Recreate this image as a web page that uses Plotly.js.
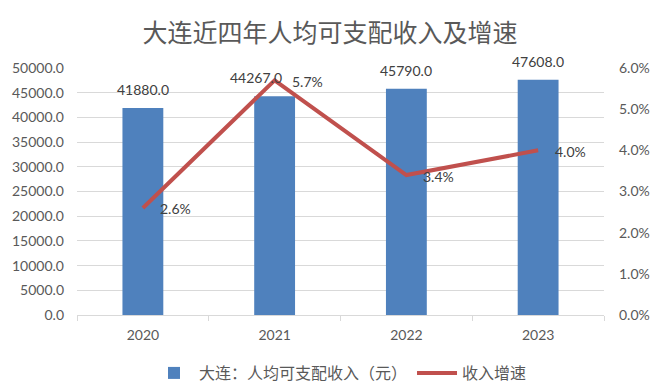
<!DOCTYPE html>
<html>
<head>
<meta charset="utf-8">
<script src="https://cdn.plot.ly/plotly-3.0.1.min.js"></script>
<style>html,body{margin:0;padding:0;background:#fff;}#chart{width:660px;height:391px;}</style>
</head>
<body>
<div id="chart"></div>
<script>
const years = ["2020", "2021", "2022", "2023"];
const income = [41880.0, 44267.0, 45790.0, 47608.0];
const growth = [2.6, 5.7, 3.4, 4.0];
const incomeName = "大连：人均可支配收入（元）";
const growthName = "收入增速";
const titleText = "大连近四年人均可支配收入及增速";

const latin = "Lato, 'Noto Sans CJK SC', sans-serif";
const cjk = "'Noto Sans CJK SC', Lato, sans-serif";
const txt = "#595959";

const traces = [
  {
    type: "bar", x: years, y: income, name: incomeName,
    marker: {color: "#4F81BD"}, hoverinfo: "none"
  },
  {
    type: "scatter", mode: "lines", x: years, y: growth, name: growthName,
    yaxis: "y2", line: {color: "#C0504D", width: 4}, hoverinfo: "none"
  }
];

const barShift = [0, -19, 0, 0];
const annotations = [];
years.forEach((yr, i) => {
  annotations.push({
    x: i, y: income[i], xref: "x", yref: "y",
    text: income[i].toFixed(1), showarrow: false,
    xanchor: "center", yanchor: "bottom", yshift: 8, xshift: barShift[i],
    font: {family: latin, size: 14, color: "#404040"}
  });
  annotations.push({
    x: i, y: growth[i], xref: "x", yref: "y2",
    text: growth[i].toFixed(1) + "%", showarrow: false,
    xanchor: "left", yanchor: "middle", xshift: 15, yshift: -1,
    font: {family: latin, size: 14, color: "#404040"}
  });
});

const layout = {
  width: 660, height: 391,
  margin: {l: 77, r: 56, t: 68, b: 76, autoexpand: false},
  paper_bgcolor: "#fff", plot_bgcolor: "#fff",
  title: {text: titleText, x: 0.5, xanchor: "center", y: 0.915, yanchor: "middle",
          font: {family: cjk, size: 25, color: txt}},
  bargap: 0.69,
  showlegend: true,
  legend: {orientation: "h", x: 0.5, xanchor: "center", yref: "container", y: 0.046, yanchor: "middle",
           font: {family: cjk, size: 16, color: txt}, itemwidth: 40, traceorder: "normal"},
  xaxis: {
    type: "category", range: [-0.5, years.length - 0.5], autorange: false,
    showgrid: false, showline: true, linecolor: "#d9d9d9", linewidth: 1,
    ticks: "outside", tickson: "boundaries", ticklen: 5, tickcolor: "#d9d9d9",
    tickfont: {family: latin, size: 14, color: txt}, zeroline: false, tickangle: 0,
    ticklabelstandoff: 7
  },
  yaxis: {
    range: [0, 50000], dtick: 5000, tickformat: ".1f",
    showgrid: true, gridcolor: "#d9d9d9", gridwidth: 1, zeroline: false, showline: false,
    tickfont: {family: latin, size: 14, color: txt}, ticklabelstandoff: 12
  },
  yaxis2: {
    overlaying: "y", side: "right", range: [0, 6], dtick: 1, tickformat: ".1f", ticksuffix: "%",
    showgrid: false, zeroline: false, showline: false,
    tickfont: {family: latin, size: 14, color: txt}, ticklabelstandoff: 14
  },
  annotations: annotations
};

Plotly.newPlot("chart", traces, layout, {staticPlot: true, displayModeBar: false});
</script>
</body>
</html>
